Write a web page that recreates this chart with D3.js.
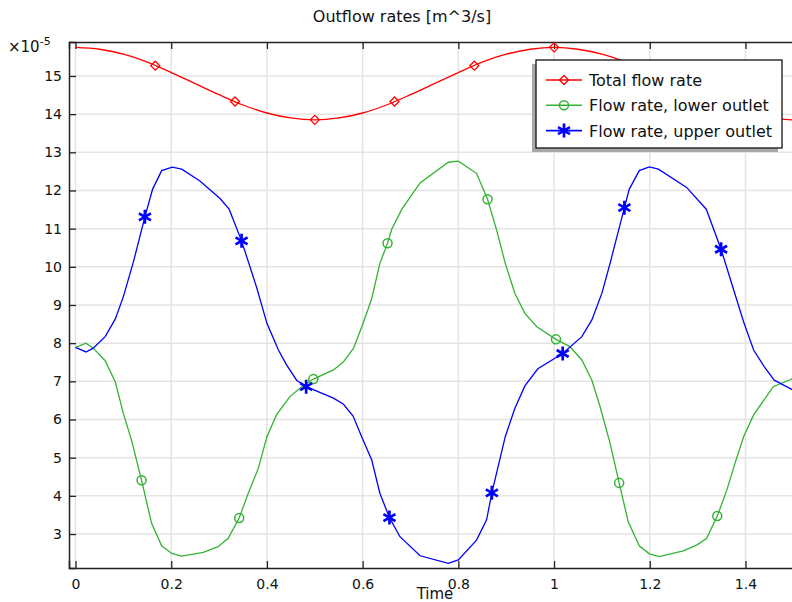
<!DOCTYPE html>
<html>
<head>
<meta charset="utf-8">
<script src="https://cdn.jsdelivr.net/npm/d3@7"></script>
<style>
  body { margin: 0; background: #fff; }
  svg { display: block; font-family: "DejaVu Sans", sans-serif; }
</style>
</head>
<body>
<svg width="792" height="602"></svg>
<script>
// time samples and values (x1e-5 m^3/s)
const redT = [0, 0.05, 0.1, 0.15, 0.2, 0.25, 0.3, 0.35, 0.4, 0.45, 0.5, 0.55, 0.6, 0.65, 0.7, 0.75,
  0.8, 0.85, 0.9, 0.95, 1.0, 1.05, 1.1, 1.15, 1.2, 1.25, 1.3, 1.35, 1.4, 1.45, 1.5];
const redV = [15.75, 15.70, 15.57, 15.36, 15.09, 14.80, 14.51, 14.24, 14.03, 13.90, 13.85, 13.90, 14.03, 14.24, 14.51, 14.80,
  15.09, 15.36, 15.57, 15.70, 15.75, 15.70, 15.57, 15.36, 15.09, 14.80, 14.51, 14.24, 14.03, 13.90, 13.85];

const greenT = [0, 0.022, 0.037, 0.062, 0.083, 0.100, 0.117, 0.138, 0.159, 0.180, 0.201, 0.222, 0.267, 0.298, 0.319,
  0.342, 0.361, 0.382, 0.400, 0.420, 0.448, 0.473, 0.497, 0.539, 0.560, 0.581, 0.601, 0.619, 0.636, 0.652, 0.661,
  0.682, 0.720, 0.779, 0.800, 0.838, 0.861, 0.880, 0.898, 0.918, 0.939, 0.964, 1.004, 1.033, 1.058, 1.079, 1.096,
  1.117, 1.136, 1.155, 1.178, 1.199, 1.220, 1.270, 1.298, 1.319, 1.341, 1.361, 1.378, 1.396, 1.417, 1.458, 1.5];
const greenV = [7.89, 8.00, 7.87, 7.54, 6.99, 6.16, 5.46, 4.41, 3.28, 2.69, 2.49, 2.42, 2.52, 2.67, 2.89,
  3.42, 4.07, 4.72, 5.55, 6.12, 6.60, 6.86, 7.06, 7.30, 7.51, 7.87, 8.52, 9.17, 10.09, 10.62, 10.99,
  11.51, 12.20, 12.74, 12.77, 12.45, 11.77, 10.96, 10.09, 9.31, 8.78, 8.43, 8.10, 7.91, 7.56, 7.03, 6.34,
  5.38, 4.34, 3.32, 2.69, 2.48, 2.41, 2.56, 2.71, 2.89, 3.47, 4.15, 4.85, 5.55, 6.12, 6.86, 7.08];

const blueT = [0, 0.022, 0.037, 0.062, 0.083, 0.100, 0.121, 0.145, 0.161, 0.180, 0.202, 0.222, 0.260, 0.302, 0.321,
  0.347, 0.379, 0.400, 0.424, 0.441, 0.462, 0.482, 0.539, 0.560, 0.580, 0.598, 0.619, 0.636, 0.656, 0.678, 0.720,
  0.779, 0.800, 0.838, 0.859, 0.870, 0.898, 0.918, 0.939, 0.966, 1.018, 1.058, 1.079, 1.100, 1.117, 1.147, 1.157,
  1.178, 1.199, 1.218, 1.277, 1.318, 1.349, 1.371, 1.396, 1.417, 1.441, 1.460, 1.5];
const blueV = [7.89, 7.77, 7.87, 8.17, 8.63, 9.22, 10.13, 11.31, 12.03, 12.52, 12.61, 12.56, 12.25, 11.79, 11.51,
  10.68, 9.44, 8.52, 7.82, 7.43, 7.03, 6.86, 6.56, 6.40, 6.09, 5.55, 4.94, 4.07, 3.43, 2.93, 2.43,
  2.23, 2.32, 2.84, 3.37, 4.08, 5.55, 6.29, 6.88, 7.33, 7.73, 8.17, 8.61, 9.31, 10.09, 11.55, 12.03,
  12.52, 12.62, 12.56, 12.08, 11.51, 10.46, 9.57, 8.56, 7.82, 7.35, 7.03, 6.77];

// where the markers sit along each line
const redMarkT = [0.1667, 0.3333, 0.5, 0.6667, 0.8333, 1.0, 1.1667, 1.3333];
const greenMarkT = [0.138, 0.342, 0.497, 0.652, 0.861, 1.004, 1.136, 1.341];
const blueMarkT = [0.145, 0.347, 0.482, 0.656, 0.870, 1.018, 1.147, 1.349];

const xTicks = [0, 0.2, 0.4, 0.6, 0.8, 1, 1.2, 1.4];
const yTicks = [3, 4, 5, 6, 7, 8, 9, 10, 11, 12, 13, 14, 15];
const legendNames = ["Total flow rate", "Flow rate, lower outlet", "Flow rate, upper outlet"];

const plotL = 69, plotR = 801, plotT = 42, plotB = 568;

const x = d3.scaleLinear().domain([-0.0136, 1.516]).range([plotL, plotR]);
const y = d3.scaleLinear().domain([2.11, 15.89]).range([plotB, plotT]);

const svg = d3.select("svg");

svg.append("defs").append("clipPath").attr("id", "plot")
  .append("rect").attr("x", plotL).attr("y", plotT).attr("width", plotR - plotL).attr("height", plotB - plotT);

// grid
const grid = svg.append("g").attr("stroke", "#e4e4e4").attr("stroke-width", 1.5);
grid.selectAll(".gx").data(xTicks).enter().append("line")
  .attr("x1", d => x(d)).attr("x2", d => x(d)).attr("y1", plotT).attr("y2", plotB);
grid.selectAll(".gy").data(yTicks).enter().append("line")
  .attr("x1", plotL).attr("x2", plotR).attr("y1", d => y(d)).attr("y2", d => y(d));

// axes
const xAxis = d3.axisBottom(x).tickValues(xTicks).tickSize(-7).tickPadding(11).tickFormat(d3.format("~g"));
const gx = svg.append("g").attr("transform", `translate(0,${plotB})`).call(xAxis);
const gxt = svg.append("g").attr("transform", `translate(0,${plotT})`)
  .call(d3.axisTop(x).tickValues(xTicks).tickSize(-7).tickFormat(""));
const gy = svg.append("g").attr("transform", `translate(${plotL},0)`)
  .call(d3.axisLeft(y).tickValues(yTicks).tickSize(-7).tickPadding(7));

[gx, gxt, gy].forEach(g => {
  g.select(".domain").attr("stroke", "#222").attr("stroke-width", 1.5);
  g.selectAll(".tick line").attr("stroke", "#222").attr("stroke-width", 1.3);
  g.selectAll("text").attr("font-family", "DejaVu Sans").attr("font-size", 14).attr("fill", "#111");
});

const toPts = (ts, vs) => ts.map((t, i) => [t, vs[i]]);
const interp = (ts, vs, t) => {
  const i = Math.max(1, Math.min(ts.length - 1, d3.bisectLeft(ts, t)));
  const f = (t - ts[i - 1]) / (ts[i] - ts[i - 1]);
  return vs[i - 1] + f * (vs[i] - vs[i - 1]);
};

const series = [
  { name: legendNames[0], color: "#ff0000", t: redT, v: redV, marks: redMarkT, curve: d3.curveCatmullRom, sym: "diamond" },
  { name: legendNames[1], color: "#33b333", t: greenT, v: greenV, marks: greenMarkT, curve: d3.curveLinear, sym: "circle" },
  { name: legendNames[2], color: "#0000ff", t: blueT, v: blueV, marks: blueMarkT, curve: d3.curveLinear, sym: "star" }
];

const markerPath = {
  diamond: "M0,-4.5L4.5,0L0,4.5L-4.5,0Z",
  circle: d3.symbol(d3.symbolCircle, 64)(),
  star: "M0,-7V7M-6,-3.5L6,3.5M-6,3.5L6,-3.5"
};
const markerWidth = { diamond: 1.3, circle: 1.5, star: 2.7 };

const plot = svg.append("g").attr("clip-path", "url(#plot)");
series.forEach(s => {
  plot.append("path")
    .datum(toPts(s.t, s.v))
    .attr("fill", "none")
    .attr("stroke", s.color)
    .attr("stroke-width", 1.3)
    .attr("d", d3.line().x(d => x(d[0])).y(d => y(d[1])).curve(s.curve));
  plot.selectAll(null)
    .data(s.marks)
    .enter()
    .append("path")
    .attr("transform", d => `translate(${x(d)},${y(interp(s.t, s.v, d))})`)
    .attr("d", markerPath[s.sym])
    .attr("fill", "none")
    .attr("stroke", s.color)
    .attr("stroke-width", markerWidth[s.sym]);
});

// legend
const lg = svg.append("g");
lg.append("rect").attr("x", 532).attr("y", 64).attr("width", 246).attr("height", 88).attr("fill", "#a8a8a8");
lg.append("rect").attr("x", 536).attr("y", 60).attr("width", 246).attr("height", 88)
  .attr("fill", "#fff").attr("stroke", "#111").attr("stroke-width", 1.3);
series.forEach((s, i) => {
  const cy = 80 + i * 25.3;
  lg.append("line").attr("x1", 546).attr("x2", 582).attr("y1", cy).attr("y2", cy)
    .attr("stroke", s.color).attr("stroke-width", 1.6);
  lg.append("path").attr("transform", `translate(564,${cy})`).attr("d", markerPath[s.sym])
    .attr("fill", "none").attr("stroke", s.color).attr("stroke-width", markerWidth[s.sym]);
  lg.append("text").attr("x", 589).attr("y", cy + 6).attr("font-size", 16).attr("fill", "#111").text(s.name);
});

// titles
svg.append("text").attr("x", 402).attr("y", 22).attr("text-anchor", "middle")
  .attr("font-size", 16).attr("fill", "#111").text("Outflow rates [m^3/s]");
svg.append("text").attr("x", 435).attr("y", 599).attr("text-anchor", "middle")
  .attr("font-size", 15).attr("fill", "#111").text("Time");
const mult = svg.append("text").attr("x", 8).attr("y", 52).attr("font-size", 15).attr("fill", "#111");
mult.append("tspan").text("\u00d710");
mult.append("tspan").attr("dy", -7).attr("font-size", 11).text("-5");
</script>
</body>
</html>
